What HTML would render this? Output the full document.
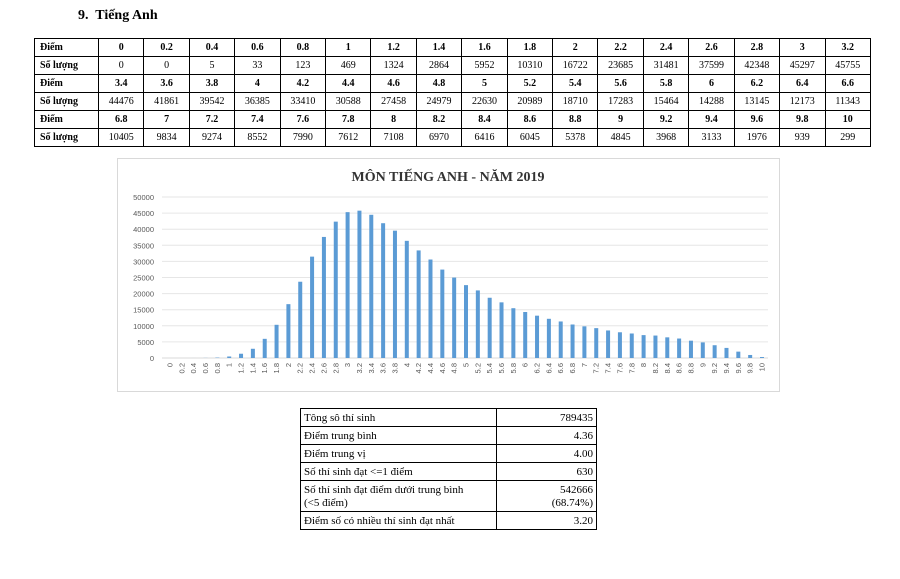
<!DOCTYPE html>
<html><head><meta charset="utf-8"><style>
body{margin:0;width:900px;height:579px;background:#fff;font-family:"Liberation Serif",serif;position:relative;overflow:hidden}
h1{position:absolute;left:78px;top:8px;margin:0;font-size:14px;font-weight:bold}
table.t{position:absolute;left:34px;top:38px;border-collapse:collapse;font-size:10px;table-layout:fixed;width:837px}
table.t td{border:1px solid #000;height:17px;padding:0;text-align:center}
table.t td:first-child{text-align:left;padding-left:5px;font-weight:bold;width:58px}
table.t tr.h td{font-weight:bold}
table.s{position:absolute;left:300px;top:408px;border-collapse:collapse;font-size:11px;width:297px}
table.s td{border:1px solid #000;padding:3px 3px 1px;line-height:13px}
table.s td+td{text-align:right;width:93px}
</style></head><body>
<h1>9.&nbsp; Tiếng Anh</h1>
<table class="t">
<tr class="h"><td>Điểm</td><td>0</td><td>0.2</td><td>0.4</td><td>0.6</td><td>0.8</td><td>1</td><td>1.2</td><td>1.4</td><td>1.6</td><td>1.8</td><td>2</td><td>2.2</td><td>2.4</td><td>2.6</td><td>2.8</td><td>3</td><td>3.2</td></tr>
<tr><td>Số lượng</td><td>0</td><td>0</td><td>5</td><td>33</td><td>123</td><td>469</td><td>1324</td><td>2864</td><td>5952</td><td>10310</td><td>16722</td><td>23685</td><td>31481</td><td>37599</td><td>42348</td><td>45297</td><td>45755</td></tr>
<tr class="h"><td>Điểm</td><td>3.4</td><td>3.6</td><td>3.8</td><td>4</td><td>4.2</td><td>4.4</td><td>4.6</td><td>4.8</td><td>5</td><td>5.2</td><td>5.4</td><td>5.6</td><td>5.8</td><td>6</td><td>6.2</td><td>6.4</td><td>6.6</td></tr>
<tr><td>Số lượng</td><td>44476</td><td>41861</td><td>39542</td><td>36385</td><td>33410</td><td>30588</td><td>27458</td><td>24979</td><td>22630</td><td>20989</td><td>18710</td><td>17283</td><td>15464</td><td>14288</td><td>13145</td><td>12173</td><td>11343</td></tr>
<tr class="h"><td>Điểm</td><td>6.8</td><td>7</td><td>7.2</td><td>7.4</td><td>7.6</td><td>7.8</td><td>8</td><td>8.2</td><td>8.4</td><td>8.6</td><td>8.8</td><td>9</td><td>9.2</td><td>9.4</td><td>9.6</td><td>9.8</td><td>10</td></tr>
<tr><td>Số lượng</td><td>10405</td><td>9834</td><td>9274</td><td>8552</td><td>7990</td><td>7612</td><td>7108</td><td>6970</td><td>6416</td><td>6045</td><td>5378</td><td>4845</td><td>3968</td><td>3133</td><td>1976</td><td>939</td><td>299</td></tr>
</table>
<svg id="c" style="position:absolute;left:0;top:0" width="900" height="579"></svg>
<table class="s">
<tr><td>Tông sô thí sinh</td><td>789435</td></tr>
<tr><td>Điểm trung bình</td><td>4.36</td></tr>
<tr><td>Điểm trung vị</td><td>4.00</td></tr>
<tr><td>Số thí sinh đạt &lt;=1 điểm</td><td>630</td></tr>
<tr><td>Số thí sinh đạt điểm dưới trung bình<br>(&lt;5 điểm)</td><td>542666<br>(68.74%)</td></tr>
<tr><td>Điểm số có nhiều thí sinh đạt nhất</td><td>3.20</td></tr>
</table>
<script>
var v=[0,0,5,33,123,469,1324,2864,5952,10310,16722,23685,31481,37599,42348,45297,45755,44476,41861,39542,36385,33410,30588,27458,24979,22630,20989,18710,17283,15464,14288,13145,12173,11343,10405,9834,9274,8552,7990,7612,7108,6970,6416,6045,5378,4845,3968,3133,1976,939,299];
var s='<rect x="117.5" y="158.5" width="662" height="233" fill="#fff" stroke="#d9d9d9"/>';
s+='<text x="448" y="181" font-family="Liberation Serif,serif" font-weight="bold" font-size="14" text-anchor="middle" fill="#333">MÔN TIẾNG ANH - NĂM 2019</text>';
for(var i=0;i<=10;i++){var y=358-i*16.1;s+='<line x1="162" x2="768" y1="'+y+'" y2="'+y+'" stroke="'+(i?'#e6e6e6':'#d9d9d9')+'"/>';
s+='<text x="154" y="'+(y+3)+'" font-family="Liberation Sans,sans-serif" font-size="7.5" text-anchor="end" fill="#595959">'+(i*5000)+'</text>';}
for(var i=0;i<51;i++){var x=170+i*11.84,h=v[i]*161/50000;
s+='<rect x="'+(x-2)+'" y="'+(358-h)+'" width="4" height="'+h+'" fill="#5b9bd5"/>';
var l=(i/5).toFixed(1).replace(/\.0$/,'');
s+='<text transform="translate('+(x+2.5)+',363) rotate(-90)" font-family="Liberation Sans,sans-serif" font-size="7.5" text-anchor="end" fill="#595959">'+l+'</text>';}
document.getElementById('c').innerHTML=s;
</script>
</body></html>
